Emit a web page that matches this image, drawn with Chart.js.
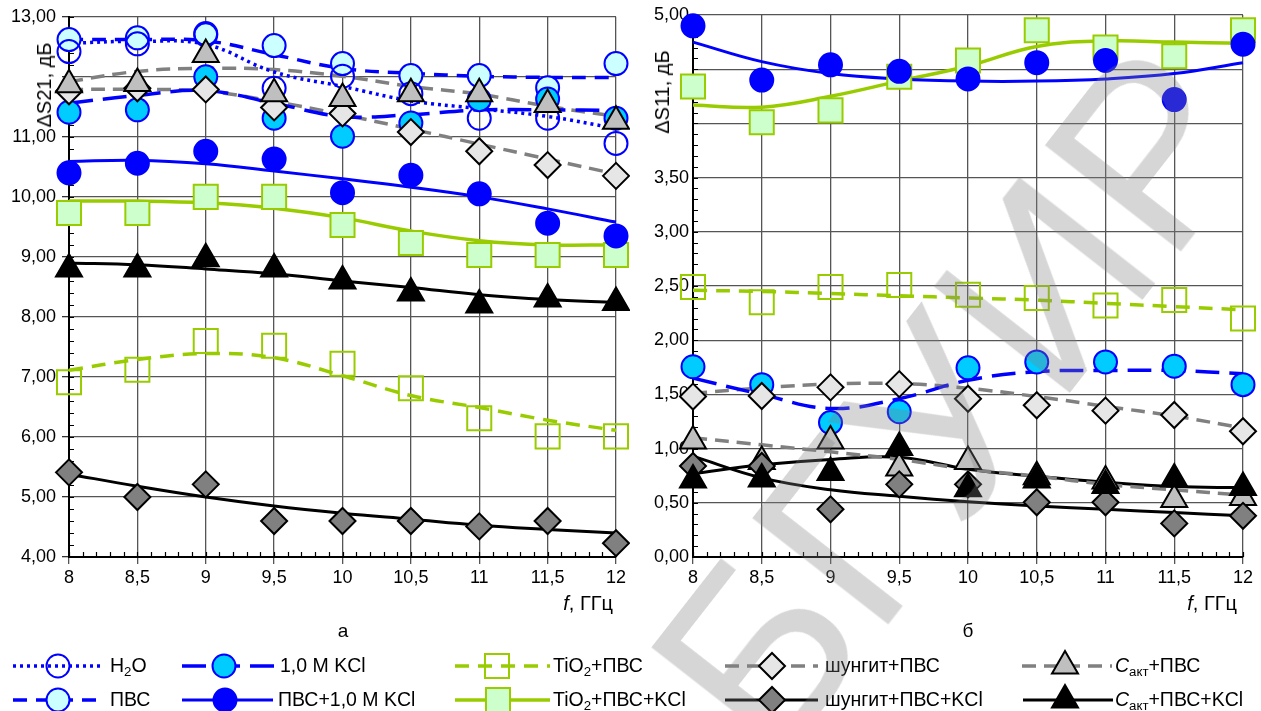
<!DOCTYPE html>
<html><head><meta charset="utf-8">
<script src="https://cdn.jsdelivr.net/npm/chart.js@4"></script>
<style>
html,body{margin:0;padding:0;background:#fff;}
#wrap{position:relative;width:1261px;height:711px;overflow:hidden;font-family:"Liberation Sans",Arial,sans-serif;color:#000;background:#fff;}
canvas{position:absolute;top:0;}
.t{position:absolute;white-space:nowrap;line-height:1;}
.lg{position:absolute;font-size:19.5px;white-space:nowrap;line-height:1;transform:translateY(-50%);}
sub{font-size:0.68em;vertical-align:-0.28em;line-height:0;}
#wm{position:absolute;left:955px;top:400px;font-size:250px;color:rgba(128,128,128,0.32);white-space:nowrap;line-height:1;transform:translate(-50%,-50%) rotate(-52deg);pointer-events:none;font-family:"Liberation Sans",Arial,sans-serif;}
</style></head>
<body><div id="wrap">
<canvas id="c1" width="630" height="600" style="left:0"></canvas>
<canvas id="c2" width="631" height="600" style="left:630px"></canvas>
<canvas id="lgc" width="1261" height="71" style="left:0;top:640px"></canvas>
<div class="t" style="left:44px;top:85px;font-size:20px;transform:translate(-50%,-50%) rotate(-90deg);">ΔS21, дБ</div>
<div class="t" style="left:662px;top:92px;font-size:20px;transform:translate(-50%,-50%) rotate(-90deg);">ΔS11, дБ</div>
<div class="t" style="right:648px;top:603px;font-size:20px;transform:translateY(-50%);"><i>f</i>, ГГц</div>
<div class="t" style="right:24px;top:603px;font-size:20px;transform:translateY(-50%);"><i>f</i>, ГГц</div>
<div class="t" style="left:343px;top:630px;font-size:19px;transform:translate(-50%,-50%);">а</div>
<div class="t" style="left:968px;top:630px;font-size:19px;transform:translate(-50%,-50%);">б</div>
<div class="lg" style="left:110px;top:666px">H<sub>2</sub>O</div>
<div class="lg" style="left:280px;top:666px">1,0 M KCl</div>
<div class="lg" style="left:553px;top:666px">TiO<sub>2</sub>+ПВС</div>
<div class="lg" style="left:825px;top:666px">шунгит+ПВС</div>
<div class="lg" style="left:1115px;top:666px"><i>C</i><sub>акт</sub>+ПВС</div>
<div class="lg" style="left:110px;top:700px">ПВС</div>
<div class="lg" style="left:278px;top:700px">ПВС+1,0 M KCl</div>
<div class="lg" style="left:553px;top:700px">TiO<sub>2</sub>+ПВС+KCl</div>
<div class="lg" style="left:825px;top:700px">шунгит+ПВС+KCl</div>
<div class="lg" style="left:1115px;top:700px"><i>C</i><sub>акт</sub>+ПВС+KCl</div>
<div id="wm">БГУИР</div>
</div>
<script>
// ---------- DATA ----------
const freqs = [8, 8.5, 9, 9.5, 10, 10.5, 11, 11.5, 12];
const s21HiddenLabels = [12];
const s11HiddenLabels = [4, 4.5];

// ΔS21 (left panel, а): measured points and fitted trend
const s21_H2O        = [12.42, 12.55, 12.70, 11.81, 12.01, 11.72, 11.31, 11.31, 10.89];
const s21_H2O_fit    = [12.56, 12.59, 12.54, 12.08, 11.84, 11.60, 11.47, 11.34, 11.14];
const s21_PVS        = [12.62, 12.65, 12.72, 12.52, 12.22, 12.02, 12.02, 11.82, 12.22];
const s21_PVS_fit    = [12.62, 12.62, 12.60, 12.37, 12.14, 12.06, 12.01, 11.99, 11.99];
const s21_KCl        = [11.41, 11.45, 12.00, 11.31, 11.01, 11.23, 11.62, 11.63, 11.31];
const s21_KCl_fit    = [11.56, 11.69, 11.77, 11.56, 11.34, 11.37, 11.45, 11.45, 11.44];
const s21_PVSKCl     = [10.40, 10.56, 10.76, 10.63, 10.07, 10.36, 10.05, 9.56, 9.35];
const s21_PVSKCl_fit = [10.59, 10.61, 10.55, 10.43, 10.30, 10.16, 10.00, 9.80, 9.58];
const s21_TiO2       = [6.91, 7.12, 7.60, 7.52, 7.22, 6.81, 6.31, 6.01, 6.01];
const s21_TiO2_fit   = [7.11, 7.29, 7.39, 7.32, 7.02, 6.69, 6.49, 6.28, 6.11];
const s21_TiO2KCl    = [9.73, 9.73, 10.00, 10.00, 9.53, 9.23, 9.03, 9.03, 9.03];
const s21_TiO2KCl_fit= [9.93, 9.93, 9.90, 9.81, 9.65, 9.43, 9.27, 9.20, 9.20];
const s21_Shung      = [11.76, 11.81, 11.79, 11.49, 11.39, 11.08, 10.76, 10.53, 10.35];
const s21_Shung_fit  = [11.79, 11.79, 11.76, 11.59, 11.37, 11.13, 10.88, 10.63, 10.38];
const s21_ShungKCl   = [5.41, 5.00, 5.21, 4.60, 4.60, 4.60, 4.51, 4.60, 4.23];
const s21_ShungKCl_fit=[5.38, 5.18, 5.00, 4.85, 4.73, 4.63, 4.53, 4.46, 4.40];
const s21_Sakt       = [11.87, 11.89, 12.37, 11.72, 11.64, 11.72, 11.72, 11.54, 11.26];
const s21_Sakt_fit   = [11.92, 12.09, 12.14, 12.12, 12.01, 11.84, 11.71, 11.51, 11.34];
const s21_SaktKCl    = [8.80, 8.80, 8.97, 8.80, 8.60, 8.40, 8.20, 8.30, 8.24];
const s21_SaktKCl_fit= [8.90, 8.87, 8.80, 8.72, 8.60, 8.49, 8.37, 8.29, 8.24];

// ΔS11 (right panel, б)
const s11_KCl        = [1.755, 1.59, 1.24, 1.34, 1.745, 1.80, 1.80, 1.76, 1.59];
const s11_KCl_fit    = [1.65, 1.50, 1.37, 1.46, 1.63, 1.71, 1.72, 1.72, 1.69];
const s11_PVSKCl     = [4.90, 4.40, 4.54, 4.48, 4.41, 4.56, 4.58, 4.22, 4.73];
const s11_PVSKCl_fit = [4.75, 4.57, 4.46, 4.41, 4.39, 4.39, 4.41, 4.46, 4.56];
const s11_TiO2       = [2.49, 2.35, 2.49, 2.51, 2.42, 2.39, 2.32, 2.37, 2.20];
const s11_TiO2_fit   = [2.46, 2.45, 2.43, 2.41, 2.39, 2.37, 2.34, 2.31, 2.28];
const s11_TiO2KCl    = [4.34, 4.01, 4.12, 4.43, 4.58, 4.86, 4.70, 4.62, 4.86];
const s11_TiO2KCl_fit= [4.17, 4.15, 4.25, 4.39, 4.53, 4.71, 4.76, 4.75, 4.74];
const s11_Shung      = [1.48, 1.485, 1.565, 1.595, 1.46, 1.40, 1.35, 1.31, 1.16];
const s11_Shung_fit  = [1.51, 1.56, 1.595, 1.60, 1.556, 1.48, 1.39, 1.30, 1.19];
const s11_ShungKCl   = [0.84, 0.84, 0.44, 0.67, 0.67, 0.505, 0.505, 0.31, 0.38];
const s11_ShungKCl_fit=[0.93, 0.73, 0.62, 0.56, 0.51, 0.47, 0.44, 0.41, 0.38];
const s11_Sakt       = [1.07, 0.88, 1.07, 0.82, 0.88, 0.74, 0.70, 0.53, 0.55];
const s11_Sakt_fit   = [1.10, 1.035, 0.97, 0.90, 0.81, 0.745, 0.67, 0.62, 0.57];
const s11_SaktKCl    = [0.71, 0.72, 0.78, 1.01, 0.63, 0.71, 0.66, 0.72, 0.64];
const s11_SaktKCl_fit= [0.77, 0.85, 0.90, 0.92, 0.81, 0.745, 0.69, 0.65, 0.64];

// ---------- STYLES ----------
const BLUE = '#0000ff', GREEN = '#99cc00', GRAY = '#808080';
const styles = {
  H2O:      {line:BLUE,  w:3.5, dash:[3,4],   shape:'circle',   r:11.5, fill:'rgba(255,255,255,0)', stroke:BLUE, z:9},
  PVS:      {line:BLUE,  w:3.5, dash:[14,9],  shape:'circle',   r:11.5, fill:'#ccffff', stroke:BLUE, z:10},
  KCl:      {line:BLUE,  w:3.5, dash:[24,10], shape:'circle',   r:11.5, fill:'#00ccff', stroke:BLUE, z:8},
  PVSKCl:   {line:BLUE,  w:3,   dash:[],      shape:'circle',   r:11.5, fill:BLUE,      stroke:BLUE, z:5},
  TiO2:     {line:GREEN, w:3.5, dash:[14,9],  shape:'rect',     r:17,   fill:'rgba(255,255,255,0)', stroke:GREEN, z:7},
  TiO2KCl:  {line:GREEN, w:3.5, dash:[],      shape:'rect',     r:17,   fill:'#ccffcc', stroke:GREEN, z:6},
  Shung:    {line:GRAY,  w:3.5, dash:[14,8],  shape:'rectRot',  r:13,   fill:'#e6e6e6', stroke:'#000', z:4},
  ShungKCl: {line:'#000',w:3,   dash:[],      shape:'rectRot',  r:13,   fill:'#808080', stroke:'#000', z:2},
  Sakt:     {line:GRAY,  w:3.5, dash:[14,8],  shape:'triangle', r:15,   fill:'#bfbfbf', stroke:'#000', z:3},
  SaktKCl:  {line:'#000',w:3,   dash:[],      shape:'triangle', r:15,   fill:'#000',    stroke:'#000', z:1}
};

function build(list){
  const ds = [];
  list.forEach(([key, pts, fit]) => {
    const st = styles[key];
    ds.push({data: freqs.map((f,i)=>({x:f, y:fit[i]})), borderColor:st.line, borderWidth:st.w,
      borderDash:st.dash, pointRadius:0, tension:0.4, fill:false, order:100, clip:false});
    ds.push({data: freqs.map((f,i)=>({x:f, y:pts[i]})), showLine:false, pointStyle:st.shape,
      pointRadius:st.r, pointBackgroundColor:st.fill, pointBorderColor:st.stroke, pointBorderWidth:2,
      order:st.z, clip:false});
  });
  return ds;
}

const minorTicks = {
  id:'minorTicks',
  beforeDatasetsDraw(chart, args, o){
    const {ctx, chartArea:a, scales:{x, y}} = chart;
    ctx.save(); ctx.strokeStyle = '#000'; ctx.lineWidth = 1.2; ctx.beginPath();
    let n = Math.round((y.max - y.min)/o.yMinor);
    for (let k=0;k<=n;k++){ const v = y.min + k*o.yMinor; const py = Math.round(y.getPixelForValue(v))+0.5;
      ctx.moveTo(a.left, py); ctx.lineTo(a.left + 5, py); }
    n = Math.round((x.max - x.min)/o.xMinor);
    for (let k=0;k<=n;k++){ const v = x.min + k*o.xMinor; const px = Math.round(x.getPixelForValue(v))+0.5;
      ctx.moveTo(px, a.bottom); ctx.lineTo(px, a.bottom - 5); }
    ctx.stroke(); ctx.restore();
  }
};

Chart.defaults.font.family = '"Liberation Sans", Arial, sans-serif';
Chart.defaults.font.size = 18;
Chart.defaults.color = '#000';

function makeChart(id, datasets, o){
  return new Chart(document.getElementById(id), {
    type:'line',
    data:{datasets},
    plugins:[minorTicks],
    options:{
      responsive:false, animation:false, devicePixelRatio:1, events:[],
      layout:{autoPadding:false, padding:{top:15, right:o.padRight, left:0, bottom:0}},
      plugins:{legend:{display:false}, tooltip:{enabled:false}, minorTicks:{yMinor:o.yMinor, xMinor:0.1}},
      scales:{
        x:{type:'linear', min:8, max:12,
          afterFit:s=>{s.height = 43;},
          ticks:{stepSize:0.5, padding:3, maxRotation:0, autoSkip:false, callback:v=>String(v).replace('.', ',')},
          grid:{color:'#555', lineWidth:1.3, tickLength:7, tickColor:'#555'},
          border:{color:'#000', width:2}},
        y:{type:'linear', min:o.min, max:o.max,
          afterFit:s=>{s.width = o.axisW;},
          ticks:{stepSize:o.step, padding:o.tickPad, autoSkip:false,
            callback:v=> o.hidden.some(h=>Math.abs(h-v)<1e-6) ? '' : v.toFixed(2).replace('.', ',')},
          grid:{color:'#555', lineWidth:1.3, tickLength:o.tickLen, tickColor:'#333'},
          border:{color:'#000', width:2}}
      }
    }
  });
}

makeChart('c1', build([
  ['H2O', s21_H2O, s21_H2O_fit], ['PVS', s21_PVS, s21_PVS_fit], ['KCl', s21_KCl, s21_KCl_fit],
  ['PVSKCl', s21_PVSKCl, s21_PVSKCl_fit], ['TiO2', s21_TiO2, s21_TiO2_fit], ['TiO2KCl', s21_TiO2KCl, s21_TiO2KCl_fit],
  ['Shung', s21_Shung, s21_Shung_fit], ['ShungKCl', s21_ShungKCl, s21_ShungKCl_fit],
  ['Sakt', s21_Sakt, s21_Sakt_fit], ['SaktKCl', s21_SaktKCl, s21_SaktKCl_fit]
]), {min:4, max:13, step:1, yMinor:0.2, hidden:s21HiddenLabels, axisW:69, padRight:14, tickLen:7, tickPad:6});

makeChart('c2', build([
  ['KCl', s11_KCl, s11_KCl_fit], ['PVSKCl', s11_PVSKCl, s11_PVSKCl_fit],
  ['TiO2', s11_TiO2, s11_TiO2_fit], ['TiO2KCl', s11_TiO2KCl, s11_TiO2KCl_fit],
  ['Shung', s11_Shung, s11_Shung_fit], ['ShungKCl', s11_ShungKCl, s11_ShungKCl_fit],
  ['Sakt', s11_Sakt, s11_Sakt_fit], ['SaktKCl', s11_SaktKCl, s11_SaktKCl_fit]
]), {min:0, max:5, step:0.5, yMinor:0.1, hidden:s11HiddenLabels, axisW:63, padRight:18, tickLen:0, tickPad:4});

// ---------- LEGEND SYMBOLS ----------
const legendItems = [
  ['H2O', 13, 100, 58, 26], ['KCl', 182, 275, 224, 26], ['TiO2', 455, 550, 497, 26], ['Shung', 725, 818, 772, 26], ['Sakt', 1022, 1112, 1065, 26],
  ['PVS', 13, 103, 58, 60], ['PVSKCl', 182, 273, 225, 60], ['TiO2KCl', 455, 550, 498, 60], ['ShungKCl', 725, 818, 772, 60], ['SaktKCl', 1023, 1113, 1065, 60]
];
(function(){
  const ctx = document.getElementById('lgc').getContext('2d');
  legendItems.forEach(([key, x0, x1, mx, y]) => {
    const st = styles[key];
    ctx.save();
    ctx.strokeStyle = st.line; ctx.lineWidth = st.w; ctx.setLineDash(st.dash);
    ctx.beginPath(); ctx.moveTo(x0, y); ctx.lineTo(x1, y); ctx.stroke();
    ctx.restore();
    ctx.save();
    ctx.setLineDash([]);
    ctx.fillStyle = st.fill; ctx.strokeStyle = st.stroke; ctx.lineWidth = 2;
    Chart.helpers.drawPoint(ctx, {pointStyle:st.shape, radius:st.r, borderWidth:2}, mx, y);
    ctx.restore();
  });
})();
</script>
</body></html>
